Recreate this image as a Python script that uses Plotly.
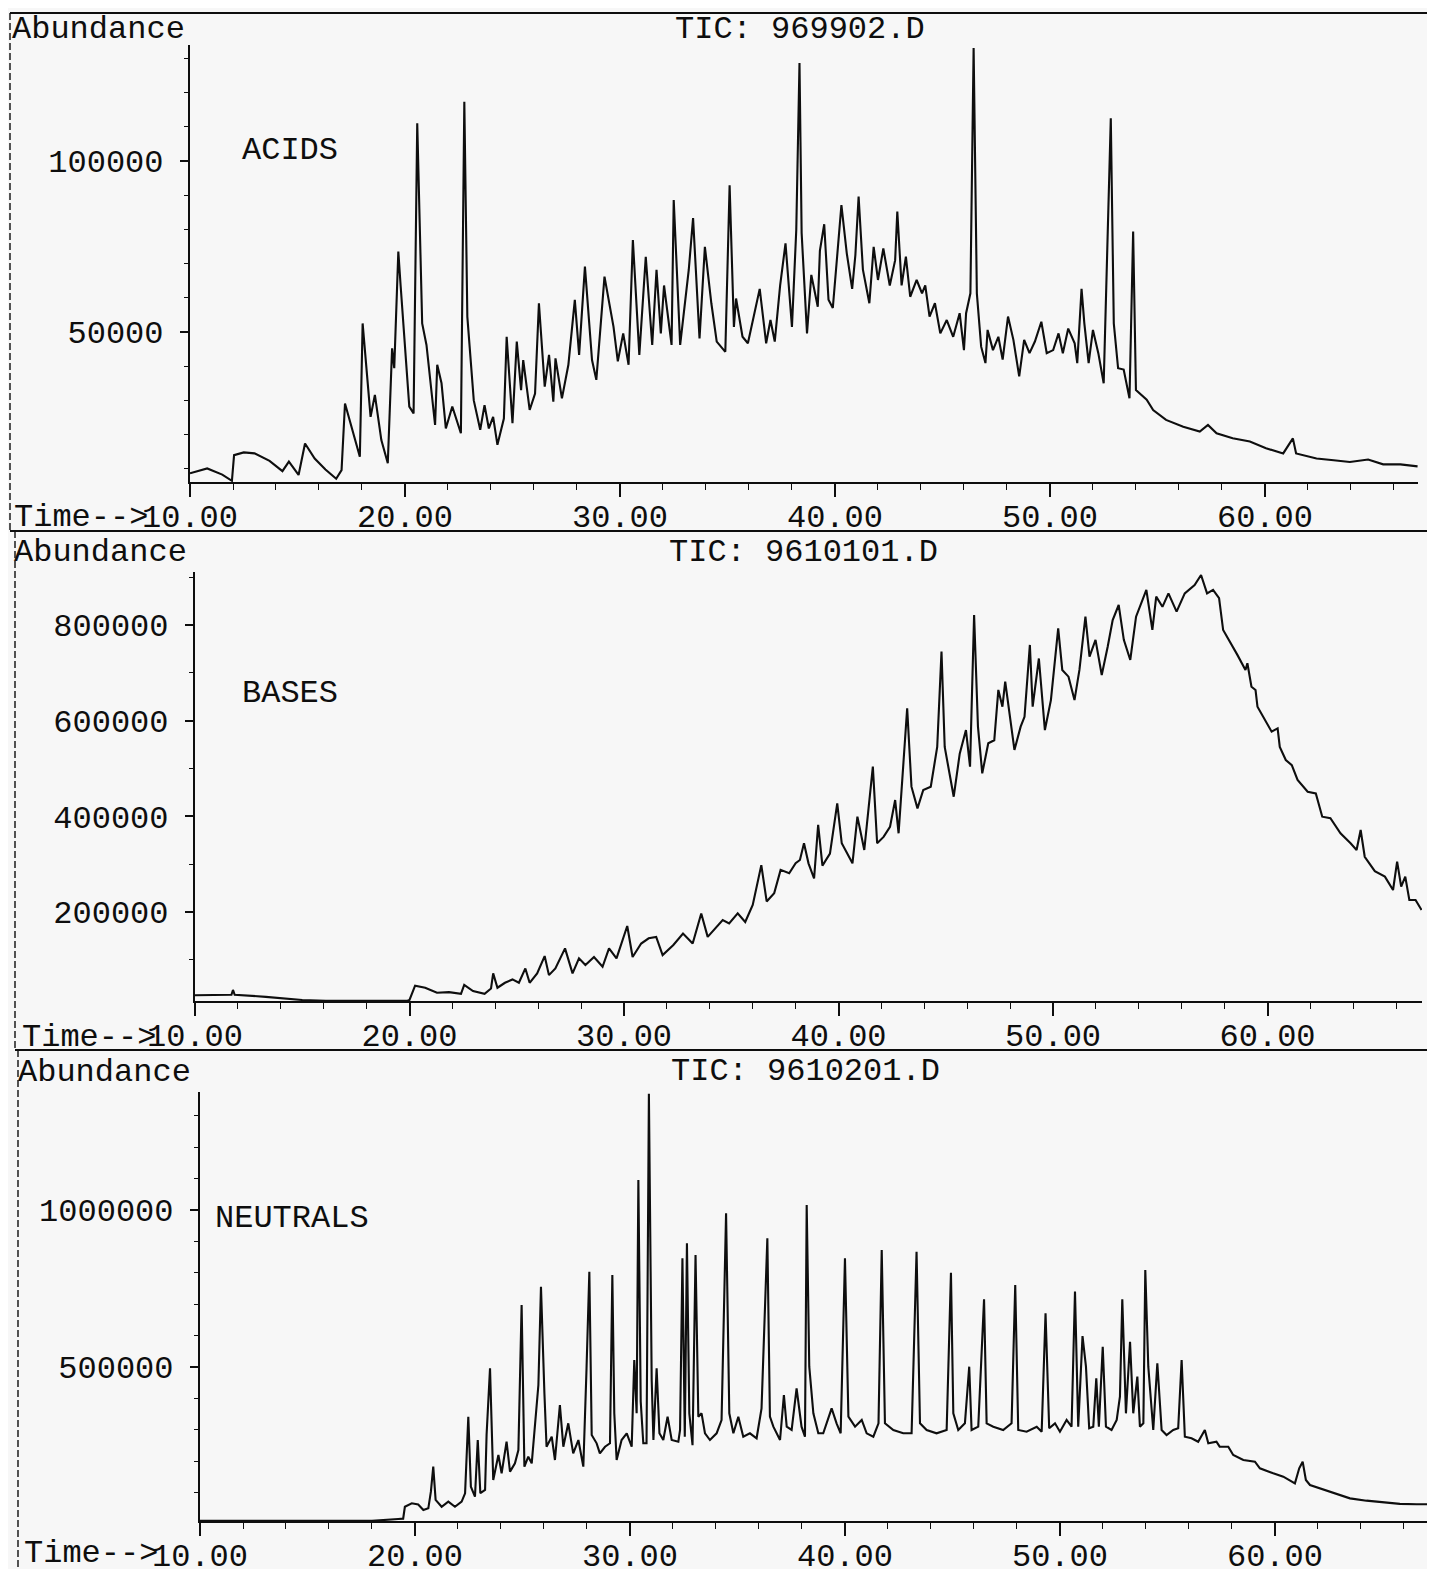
import plotly.graph_objects as go

W, H = 1435, 1569
OFF = 8  # page body margin of the browser

# ---------------- data ----------------
acids_t = [10.0, 10.8, 11.5, 11.95, 12.05, 12.5, 13.0, 13.7, 14.3, 14.6, 15.05, 15.35, 15.8, 16.3, 16.8,
           17.05, 17.21, 17.6, 17.9, 18.03, 18.4, 18.6, 18.9, 19.2, 19.4, 19.5, 19.69, 19.8, 20.2, 20.4,
           20.57, 20.8, 21.0, 21.4, 21.5, 21.7, 21.9, 22.2, 22.6, 22.76, 22.9, 23.2, 23.5, 23.7, 23.9,
           24.1, 24.3, 24.6, 24.73, 25.0, 25.2, 25.4, 25.5, 25.8, 26.05, 26.23, 26.5, 26.7, 26.9, 27.0,
           27.3, 27.6, 27.9, 28.1, 28.37, 28.7, 28.9, 29.28, 29.7, 29.9, 30.15, 30.4, 30.6, 30.9, 31.2,
           31.5, 31.7, 31.9, 32.05, 32.4, 32.5, 32.8, 33.2, 33.4, 33.7, 33.95, 34.25, 34.5, 34.9, 35.1,
           35.3, 35.4, 35.7, 35.95, 36.2, 36.5, 36.8, 37.0, 37.2, 37.45, 37.7, 38.0, 38.2, 38.35, 38.45,
           38.7, 38.9, 39.2, 39.3, 39.5, 39.7, 39.9, 40.1, 40.3, 40.55, 40.8, 40.95, 41.1, 41.3, 41.6,
           41.8, 42.0, 42.25, 42.55, 42.8, 42.9, 43.1, 43.3, 43.5, 43.8, 44.05, 44.2, 44.4, 44.65, 44.9,
           45.2, 45.5, 45.8, 46.0, 46.1, 46.3, 46.45, 46.6, 46.8, 47.0, 47.1, 47.35, 47.6, 47.8, 48.05,
           48.3, 48.57, 48.8, 49.05, 49.3, 49.6, 49.85, 50.15, 50.4, 50.6, 50.85, 51.15, 51.27, 51.47, 51.6,
           51.8, 52.0, 52.25, 52.5, 52.67, 52.83, 52.97, 53.17, 53.43, 53.7, 53.87, 54.0, 54.5, 54.8, 55.4,
           56.2, 56.97, 57.35, 57.75, 58.5, 59.3, 60.05, 60.85, 61.3, 61.45, 62.4, 63.2, 63.95, 64.8, 65.5,
           66.3, 67.1]
acids_v = [8700, 10100, 8300, 6500, 14000, 14800, 14500, 12300, 9300, 12100, 8200, 17400, 13000, 9800, 7100,
           9600, 29100, 20000, 13500, 52500, 25200, 31600, 18400, 11600, 45200, 39400, 73500, 63300, 28200, 26200,
           111000, 52500, 46200, 22800, 40400, 35000, 21800, 28200, 20400, 117300, 54500, 30000, 21400, 28600, 21800,
           25200, 17000, 24700, 48600, 23300, 47200, 33000, 41800, 27200, 32000, 58400, 34000, 43300, 29600, 42300,
           30600, 40400, 59400, 43300, 69100, 41800, 36000, 66200, 51500, 41400, 49600, 40400, 76900, 43300, 72000,
           46200, 68200, 49600, 63600, 46200, 88600, 46200, 68200, 83300, 48100, 74900, 58400, 47200, 44200, 92900,
           51500, 59800, 48600, 46700, 53500, 62600, 46700, 53500, 47200, 63600, 75900, 51500, 79800, 128600, 78900,
           49600, 66700, 57400, 73800, 81500, 59400, 57000, 72000, 87100, 73000, 62600, 72500, 89600, 68200, 58400,
           74900, 65200, 74400, 63600, 71000, 85200, 63600, 72000, 60300, 65200, 61300, 63600, 54500, 58400, 49600,
           53500, 48600, 55500, 44700, 55500, 61300, 133000, 61300, 45700, 40900, 50600, 44700, 48600, 41900, 54500,
           47700, 37000, 47700, 43800, 47200, 53000, 43800, 44700, 49600, 43800, 51000, 46700, 40900, 62600, 52500,
           40900, 50600, 43800, 35000, 78900, 112500, 52500, 39400, 39000, 30600, 79400, 33000, 30200, 27200, 24300,
           22300, 20900, 22800, 20400, 18900, 18000, 16000, 14500, 18900, 14500, 13000, 12500, 12000, 12700, 11300,
           11300, 10700]

bases_t = [10.0, 11.7, 11.77, 11.85, 13.3, 15.0, 16.1, 18.0, 19.9, 20.0, 20.26, 20.73, 21.28, 21.84, 22.4,
           22.55, 22.96, 23.5, 23.8, 23.9, 24.1, 24.45, 24.8, 25.1, 25.4, 25.6, 25.95, 26.3, 26.5, 26.8,
           27.25, 27.6, 27.9, 28.2, 28.6, 29.0, 29.3, 29.65, 30.15, 30.4, 30.8, 31.15, 31.5, 31.8, 32.3,
           32.75, 33.2, 33.6, 33.9, 34.6, 34.9, 35.3, 35.65, 36.0, 36.4, 36.65, 37.0, 37.3, 37.7, 38.0,
           38.2, 38.39, 38.6, 38.86, 39.05, 39.25, 39.6, 39.94, 40.15, 40.65, 40.88, 41.2, 41.6, 41.8, 42.1,
           42.4, 42.64, 42.8, 43.2, 43.4, 43.68, 43.95, 44.3, 44.6, 44.8, 44.95, 45.37, 45.65, 45.94, 46.13,
           46.32, 46.5, 46.7, 46.98, 47.26, 47.45, 47.64, 47.77, 48.2, 48.49, 48.67, 48.92, 49.05, 49.34, 49.62,
           49.9, 50.05, 50.24, 50.43, 50.72, 51.0, 51.23, 51.51, 51.7, 51.98, 52.27, 52.55, 52.78, 53.06, 53.3,
           53.6, 53.87, 54.35, 54.63, 54.81, 55.1, 55.38, 55.76, 56.14, 56.6, 56.9, 57.18, 57.46, 57.74, 57.93,
           58.2, 58.6, 58.97, 59.06, 59.25, 59.44, 59.53, 59.9, 60.19, 60.47, 60.57, 60.85, 61.13, 61.4, 61.87,
           62.25, 62.55, 62.93, 63.4, 63.87, 64.15, 64.34, 64.53, 65.0, 65.47, 65.85, 66.04, 66.23, 66.42, 66.61,
           66.9, 67.18]
bases_v = [26000, 27000, 37000, 27000, 22600, 16000, 14500, 14000, 14500, 16000, 45800, 41600, 31100, 32500, 29000,
           47400, 34600, 29000, 40000, 71700, 41600, 52000, 59000, 52000, 82000, 52000, 71700, 107800, 68000, 82000,
           124000, 71700, 103000, 89000, 106000, 85500, 124000, 103000, 170700, 106000, 134000, 145000, 148000, 110000, 131000,
           155000, 134000, 197000, 148000, 183000, 176000, 197000, 179000, 214600, 298000, 222000, 239000, 288000, 281000, 302000,
           308700, 343600, 301700, 270000, 382000, 297000, 322000, 427000, 343600, 301700, 399300, 329600, 503900, 343600, 357000,
           378000, 434000, 364500, 625700, 462000, 416600, 455000, 462000, 545000, 744300, 545000, 441000, 531000, 580400, 503900,
           820900, 587400, 489900, 552700, 559000, 664200, 629200, 681600, 538800, 587400, 608000, 758300, 629200, 730000, 580400,
           643000, 713000, 793000, 706000, 692000, 643000, 706000, 817400, 734000, 769000, 695500, 755000, 810400, 841800, 769000,
           726900, 817400, 873300, 790000, 859300, 838000, 866000, 828000, 866000, 883600, 904500, 866000, 873300, 856000, 789500,
           768800, 737000, 706000, 720000, 671000, 664000, 629200, 601500, 577000, 584000, 545000, 517800, 507000, 476000, 451500,
           448000, 399300, 396000, 364500, 343600, 329600, 371400, 315500, 285500, 274000, 246000, 305200, 253000, 274000, 225000,
           225000, 204200]

neutrals_t = [10.0, 18.0, 19.22, 19.45, 19.53, 19.85, 20.15, 20.39, 20.62, 20.74, 20.85, 20.96, 21.24, 21.55, 21.86,
              22.17, 22.33, 22.48, 22.6, 22.79, 22.92, 23.04, 23.26, 23.33, 23.49, 23.64, 23.88, 24.03, 24.26, 24.42,
              24.65, 24.81, 24.96, 25.09, 25.27, 25.43, 25.74, 25.86, 26.02, 26.12, 26.36, 26.51, 26.74, 26.9, 27.13,
              27.36, 27.6, 27.83, 27.98, 28.11, 28.22, 28.45, 28.6, 28.84, 29.07, 29.18, 29.27, 29.38, 29.61, 29.85,
              30.08, 30.2, 30.31, 30.39, 30.5, 30.62, 30.77, 30.88, 31.01, 31.09, 31.24, 31.37, 31.55, 31.75, 31.94,
              32.25, 32.33, 32.44, 32.55, 32.65, 32.76, 32.91, 33.05, 33.18, 33.33, 33.49, 33.72, 34.03, 34.26, 34.47,
              34.62, 34.81, 35.04, 35.27, 35.58, 35.89, 36.12, 36.39, 36.51, 36.67, 36.98, 37.16, 37.29, 37.52, 37.75,
              37.98, 38.14, 38.22, 38.34, 38.53, 38.76, 38.99, 39.38, 39.61, 39.8, 40.0, 40.16, 40.47, 40.78, 41.01,
              41.32, 41.56, 41.71, 41.86, 42.25, 42.71, 43.1, 43.33, 43.49, 43.8, 44.26, 44.73, 44.93, 45.04, 45.27,
              45.58, 45.78, 45.89, 46.2, 46.47, 46.59, 46.9, 47.36, 47.75, 47.92, 48.06, 48.45, 48.92, 49.15, 49.33,
              49.5, 49.77, 50.0, 50.31, 50.54, 50.7, 50.85, 51.05, 51.21, 51.36, 51.55, 51.69, 51.81, 51.99, 52.14,
              52.4, 52.64, 52.79, 52.9, 53.07, 53.26, 53.41, 53.6, 53.72, 53.88, 53.97, 54.11, 54.34, 54.53, 54.73,
              54.96, 55.27, 55.5, 55.66, 55.81, 56.12, 56.43, 56.74, 56.9, 57.28, 57.43, 57.83, 58.06, 58.53, 59.07,
              59.3, 59.92, 60.39, 60.93, 61.13, 61.29, 61.44, 61.63, 62.1, 62.71, 63.49, 64.26, 65.04, 65.81, 66.59,
              67.18]
neutrals_v = [9800, 10000, 16000, 17000, 55000, 65800, 62000, 44600, 49900, 103000, 182600, 77000, 55000, 71100, 55000,
              71100, 97700, 341800, 118900, 87000, 267500, 98000, 108300, 283400, 495700, 140100, 219800, 161400, 262200, 166700,
              193200, 235700, 697400, 182600, 214400, 193200, 442700, 755800, 416100, 246200, 278100, 203800, 379000, 246200, 320600,
              225100, 267500, 182600, 495800, 803500, 283400, 256900, 225000, 246000, 257000, 793000, 352500, 203800, 267500, 288800,
              246000, 522300, 352500, 1095500, 390000, 257000, 257000, 1370000, 458600, 267500, 496000, 288800, 267500, 341800, 267500,
              262000, 299400, 846000, 278100, 893800, 352500, 251000, 856600, 341800, 352500, 288800, 267500, 288800, 331200, 989400,
              352500, 288800, 341800, 278100, 288800, 273000, 368400, 909800, 341800, 309900, 267500, 410800, 309900, 299400, 432100,
              309900, 278100, 1016000, 501000, 352500, 288800, 288800, 368400, 320600, 288800, 846000, 341800, 309900, 331200, 288800,
              278100, 320600, 872600, 320600, 299400, 288800, 288800, 867300, 320600, 299400, 288800, 299400, 800400, 352500, 299400,
              320600, 501000, 299400, 309900, 715600, 320600, 309900, 299400, 320600, 761100, 299400, 294000, 309900, 294000, 671000,
              304700, 320600, 294000, 331200, 309900, 740000, 309900, 598600, 501000, 304700, 309900, 464100, 309900, 564700, 309900,
              299400, 331200, 405400, 715600, 352500, 580600, 352500, 469200, 309900, 320600, 809000, 501000, 299400, 511800, 299400,
              283400, 299400, 304700, 522300, 278100, 273000, 262000, 299400, 256900, 262000, 246200, 246200, 219800, 203800, 198500,
              177300, 161400, 150700, 129500, 177300, 198500, 140100, 124200, 113600, 97700, 81700, 74300, 68000, 64000, 63000,
              63000]

panel_names = ["ACIDS", "BASES", "NEUTRALS"]
tic_labels = ["TIC: 969902.D", "TIC: 9610101.D", "TIC: 9610201.D"]
y_tickvals = [[50000, 100000], [200000, 400000, 600000, 800000], [500000, 1000000]]
y_minor = [10000, 100000, 100000]
x_major = 10
x_minor = 2

# ---------------- layout geometry (target pixels on the page) ----------------
FONT = "Liberation Mono, Courier New, monospace"
INK = "#0e0e0e"
BG = "#f7f7f7"

panels = [
    dict(left=190, right=1418, top=45, bottom=482, xr=[10, 67.12], yr=[6140, 133900]),
    dict(left=195, right=1422, top=572, bottom=1001, xr=[10, 67.2], yr=[13900, 910800]),
    dict(left=200, right=1428, top=1092, bottom=1521, xr=[10, 67.12], yr=[9554, 1375800]),
]

def fx(px):
    return (px - OFF) / W

def fy(py):
    return 1 - (py - OFF) / H

series = [(acids_t, acids_v), (bases_t, bases_v), (neutrals_t, neutrals_v)]

fig = go.Figure()
layout = dict(
    width=W, height=H, autosize=False,
    margin=dict(l=0, r=0, t=0, b=0, pad=0, autoexpand=False),
    paper_bgcolor=BG, plot_bgcolor=BG,
    showlegend=False,
    font=dict(family=FONT, size=32, color=INK),
)

for i, (p, (t, v)) in enumerate(zip(panels, series)):
    n = "" if i == 0 else str(i + 1)
    fig.add_trace(go.Scatter(x=t, y=v, mode="lines", xaxis="x" + n, yaxis="y" + n,
                             line=dict(color=INK, width=2.1), hoverinfo="skip"))
    layout["xaxis" + n] = dict(
        domain=[fx(p["left"]), fx(p["right"])], range=p["xr"], anchor="y" + n,
        automargin=False,
        showline=True, linecolor=INK, linewidth=2.4, mirror=False,
        ticks="outside", ticklen=13, tickwidth=1.6, tickcolor=INK,
        tickmode="linear", tick0=10, dtick=x_major, tickformat=".2f",
        tickfont=dict(family=FONT, size=32, color=INK),
        ticklabelstandoff=-9,
        minor=dict(tick0=10, dtick=x_minor, ticks="outside", ticklen=6, tickwidth=1.4,
                   tickcolor=INK, showgrid=False),
        showgrid=False, zeroline=False, fixedrange=True,
    )
    layout["yaxis" + n] = dict(
        domain=[fy(p["bottom"]), fy(p["top"])], range=p["yr"], anchor="x" + n,
        automargin=False,
        showline=True, linecolor=INK, linewidth=2.2,
        ticks="outside", ticklen=8, tickwidth=1.6, tickcolor=INK,
        tickmode="array", tickvals=y_tickvals[i], ticktext=[str(k) for k in y_tickvals[i]],
        tickfont=dict(family=FONT, size=32, color=INK),
        ticklabelstandoff=10,
        minor=dict(tick0=0, dtick=y_minor[i], ticks="outside", ticklen=4, tickwidth=1.2,
                   tickcolor=INK, showgrid=False),
        showgrid=False, zeroline=False, fixedrange=True,
    )

# ---------------- text ----------------
ann = []
def add_text(txt, xpx, ypx, anchor="left", size=32):
    ann.append(dict(text=txt, x=fx(xpx), y=fy(ypx), xref="paper", yref="paper",
                    xanchor=anchor, yanchor="middle", showarrow=False,
                    font=dict(family=FONT, size=size, color=INK)))

abund_pos = [(10, 30), (12, 552), (16, 1072)]
tic_pos = [(673, 30), (667, 552), (669, 1071)]
name_pos = [(240, 151), (240, 693), (213, 1218)]
time_pos = [(12, 517), (20, 1037), (22, 1553)]
for i in range(3):
    add_text("Abundance", *abund_pos[i])
    add_text(tic_labels[i], *tic_pos[i])
    add_text(panel_names[i], *name_pos[i])
    add_text("Time--&gt;", *time_pos[i])
layout["annotations"] = ann

# ---------------- page frame ----------------
shapes = []
def line(x0, y0, x1, y1, width=2, dash="solid", color=INK):
    shapes.append(dict(type="line", xref="paper", yref="paper",
                       x0=fx(x0), y0=fy(y0), x1=fx(x1), y1=fy(y1),
                       line=dict(color=color, width=width, dash=dash)))

line(10, 13, 1435, 13, 2.2)
line(10, 531, 1435, 531, 2.2)
line(15, 1050, 1435, 1050, 2.2)
line(10, 13, 10, 531, 1.4, "7px,3px")
line(15, 531, 15, 1050, 1.4, "7px,3px")
line(18, 1050, 18, 1569, 1.4, "7px,3px")
line(1433, 13, 1433, 1569, 1, "solid", "#d0d0d0")
layout["shapes"] = shapes

fig.update_layout(**layout)
fig.write_html("out.html")
